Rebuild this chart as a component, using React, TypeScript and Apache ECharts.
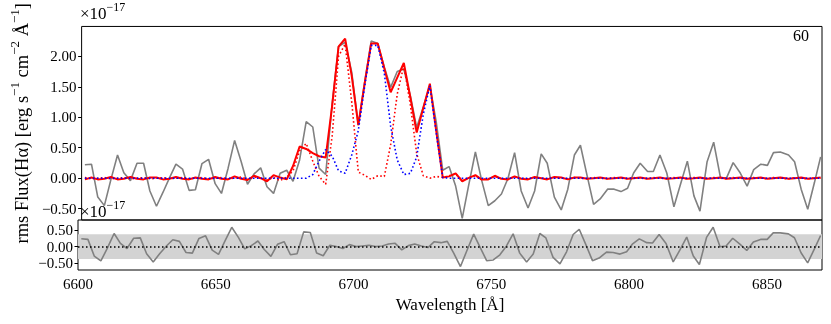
import { useEffect, useRef } from "react";
import * as echarts from "echarts";

// Wavelength samples [Å]
const wavelength = [
  6601.2, 6603.6, 6605.9, 6608.3, 6610.7, 6613.1, 6615.4, 6617.8, 6620.2, 6622.6,
  6624.9, 6627.3, 6629.7, 6632.0, 6634.4, 6636.8, 6639.2, 6641.5, 6643.9, 6646.3,
  6648.7, 6651.0, 6653.4, 6655.8, 6658.2, 6660.5, 6662.9, 6665.3, 6667.6, 6670.0,
  6672.4, 6674.8, 6677.1, 6679.5, 6681.9, 6684.3, 6686.6, 6689.0, 6691.4, 6693.7,
  6696.1, 6698.5, 6700.9, 6703.2, 6705.6, 6708.0, 6710.4, 6712.7, 6715.1, 6717.5,
  6719.9, 6722.2, 6724.6, 6727.0, 6729.3, 6731.7, 6734.0, 6736.4, 6738.8, 6741.0,
  6743.6, 6745.8, 6748.3, 6750.7, 6753.1, 6755.5, 6757.9, 6760.3, 6762.8, 6765.2,
  6767.6, 6769.8, 6772.4, 6774.9, 6777.3, 6779.7, 6781.9, 6784.3, 6786.7, 6789.1,
  6791.8, 6794.2, 6796.7, 6799.1, 6801.3, 6803.7, 6806.4, 6808.5, 6810.9, 6813.4,
  6816.0, 6818.4, 6820.9, 6823.3, 6825.5, 6828.1, 6830.5, 6833.0, 6835.2, 6837.6,
  6840.2, 6842.7, 6845.1, 6847.7, 6850.1, 6852.3, 6854.8, 6857.8, 6860.0, 6862.4,
  6864.8, 6867.2, 6869.5,
];

// Observed rms flux (×1e-17)
const flux = [
  0.22, 0.23, -0.31, -0.45, -0.02, 0.38, 0.09, -0.04, 0.245, 0.245,
  -0.21, -0.46, -0.23, 0.0, 0.23, 0.15, -0.2, -0.19, 0.24, 0.31,
  -0.09, -0.25, 0.16, 0.62, 0.27, -0.1, 0.07, 0.17, -0.14, -0.25,
  0.08, 0.13, -0.05, 0.3, 0.93, 0.84, 0.165, 0.06, 1.24, 2.16,
  2.23, 1.74, 0.87, 1.57, 2.25, 2.21, 1.82, 1.49, 1.75, 1.79,
  1.35, 0.83, 1.17, 1.52, 0.93, 0.13, 0.19, -0.13, -0.66, -0.15,
  0.43, -0.02, -0.45, -0.37, -0.26, 0.0, 0.42, -0.21, -0.49, -0.21,
  0.4, 0.245, -0.31, -0.52, -0.18, 0.38, 0.54, 0.05, -0.43, -0.34,
  -0.18, -0.18, -0.22, -0.165, 0.085, 0.245, 0.11, 0.11, 0.38, 0.085,
  -0.47, -0.1, 0.28, -0.29, -0.54, 0.27, 0.59, 0.005, 0.005, 0.255,
  0.085, -0.13, 0.14, 0.23, 0.21, 0.42, 0.43, 0.38, 0.27, -0.18,
  -0.51, -0.08, 0.35,
];

// Total model (red solid)
const modelTotal = [
  -0.02, 0.01, -0.02, -0.01, 0.02, -0.02, -0.01, 0.02, -0.01, -0.02,
  0.01, 0.01, -0.02, -0.01, 0.02, -0.01, -0.02, 0.01, -0.01, -0.02,
  0.02, -0.01, -0.02, 0.03, -0.01, -0.03, 0.04, 0.0, -0.05, 0.05,
  0.01, -0.02, 0.2, 0.52, 0.48, 0.41, 0.36, 0.34, 1.2, 2.16,
  2.29, 1.68, 0.87, 1.55, 2.21, 2.21, 1.8, 1.41, 1.65, 1.89,
  1.32, 0.75, 1.15, 1.55, 0.78, 0.01, 0.03, 0.08, -0.05, 0.0,
  0.05, -0.02, -0.02, 0.04, -0.01, -0.02, 0.03, -0.01, -0.02, 0.02,
  0.0, -0.02, 0.02, 0.01, -0.02, 0.01, 0.01, -0.01, 0.0, 0.01,
  -0.01, 0.0, 0.01, -0.01, 0.0, 0.01, -0.01, 0.0, 0.01, -0.01,
  0.0, 0.01, -0.01, 0.0, 0.01, -0.01, 0.0, 0.01, -0.01, 0.0,
  0.01, -0.01, 0.0, 0.01, -0.01, 0.0, 0.01, -0.01, 0.0, 0.01,
  -0.01, 0.0, 0.01,
];

// Narrow kinematic component (red dotted)
const componentRed = [
  0.01, -0.01, 0.0, 0.01, -0.01, 0.0, 0.01, -0.01, 0.0, 0.01,
  -0.01, 0.0, 0.01, -0.01, 0.0, 0.01, -0.01, 0.0, 0.01, -0.01,
  0.0, 0.01, -0.01, 0.0, 0.02, -0.02, 0.02, 0.0, -0.03, 0.01,
  -0.04, 0.02, 0.12, 0.45, 0.57, 0.28, 0.03, -0.1, 0.7, 2.0,
  2.2, 1.25, 0.1, 0.05, -0.02, 0.04, 0.03, 0.55, 1.38, 1.85,
  1.2, 0.4, 0.04, 0.0, 0.03, 0.01, 0.04, 0.07, -0.04, 0.0,
  0.04, -0.02, -0.01, 0.03, -0.01, -0.02, 0.02, 0.0, -0.01, 0.01,
  0.0, -0.01, 0.01, 0.0, -0.01, 0.01, 0.0, -0.01, 0.01, 0.0,
  -0.01, 0.01, 0.0, -0.01, 0.01, 0.0, -0.01, 0.01, 0.0, -0.01,
  0.01, 0.0, -0.01, 0.01, 0.0, -0.01, 0.01, 0.0, -0.01, 0.01,
  0.0, -0.01, 0.01, 0.0, -0.01, 0.01, 0.0, -0.01, 0.01, 0.0,
  -0.01, 0.01, 0.0,
];

// Second kinematic component (blue dotted)
const componentBlue = [
  0.0, 0.0, 0.0, 0.0, 0.0, 0.0, 0.0, 0.0, 0.0, 0.0,
  0.0, 0.0, 0.0, 0.0, 0.0, 0.0, 0.0, 0.0, 0.0, 0.0,
  0.0, 0.0, 0.0, 0.0, 0.0, 0.0, 0.0, 0.0, 0.0, 0.0,
  0.0, 0.0, 0.0, 0.0, 0.0, 0.06, 0.28, 0.47, 0.36, 0.12,
  0.08, 0.38, 0.78, 1.5, 2.18, 2.18, 1.72, 0.85, 0.3, 0.06,
  0.08, 0.35, 1.05, 1.52, 0.75, 0.01, 0.0, 0.0, 0.0, 0.0,
  0.0, 0.0, 0.0, 0.0, 0.0, 0.0, 0.0, 0.0, 0.0, 0.0,
  0.0, 0.0, 0.0, 0.0, 0.0, 0.0, 0.0, 0.0, 0.0, 0.0,
  0.0, 0.0, 0.0, 0.0, 0.0, 0.0, 0.0, 0.0, 0.0, 0.0,
  0.0, 0.0, 0.0, 0.0, 0.0, 0.0, 0.0, 0.0, 0.0, 0.0,
  0.0, 0.0, 0.0, 0.0, 0.0, 0.0, 0.0, 0.0, 0.0, 0.0,
  0.0, 0.0, 0.0,
];

const rmsLevel = 0.38;
const xTicks = [6600, 6650, 6700, 6750, 6800, 6850];
const fluxTicks = [-0.5, 0, 0.5, 1, 1.5, 2];
const residualTicks = [-0.5, 0, 0.5];
const panelLabel = "60";

const FONT = "'Liberation Serif', 'DejaVu Serif', serif";
const fmt = (v: number) => (v < 0 ? "\u2212" : "") + Math.abs(v).toFixed(2);

export default function App() {
  const ref = useRef<HTMLDivElement>(null);
  useEffect(() => {
    if (!ref.current) return;
    const chart = echarts.init(ref.current, undefined, { renderer: "svg" });
    const pairs = (ys: number[]) => wavelength.map((w, i) => [w, ys[i]]);
    const residual = wavelength.map((w, i) => [w, +(flux[i] - modelTotal[i]).toFixed(3)]);
    const tickLabel = { fontFamily: FONT, fontSize: 15, color: "#000" };
    const richOffset = {
      a: { fontFamily: FONT, fontSize: 17, lineHeight: 21, verticalAlign: "bottom", fill: "#000", color: "#000" },
      b: { fontFamily: FONT, fontSize: 12, lineHeight: 12, verticalAlign: "top", fill: "#000", color: "#000" },
    };
    chart.setOption({
      animation: false,
      grid: [
        { left: 78, top: 21, width: 744, height: 199, show: true, borderColor: "#000", borderWidth: 1, backgroundColor: "transparent" },
        { left: 78, top: 220, width: 744, height: 50, show: true, borderColor: "#000", borderWidth: 1, backgroundColor: "transparent" },
      ],
      xAxis: [
        {
          type: "value", gridIndex: 0, min: 6600, max: 6870,
          axisLabel: { show: false }, axisTick: { show: false }, axisLine: { show: false }, splitLine: { show: false },
        },
        {
          type: "value", gridIndex: 1, min: 6600, max: 6870,
          axisLabel: { ...tickLabel, margin: 6, customValues: xTicks, formatter: (v: number) => String(v) },
          axisTick: { show: true, length: 3.5, customValues: xTicks, lineStyle: { color: "#000", width: 1 } },
          axisLine: { show: false }, splitLine: { show: false },
          name: "Wavelength [Å]", nameLocation: "middle", nameGap: 26,
          nameTextStyle: { fontFamily: FONT, fontSize: 17, color: "#000" },
        },
      ],
      yAxis: [
        {
          type: "value", gridIndex: 0, min: -0.686, max: 2.49,
          axisLabel: { ...tickLabel, margin: 5, customValues: fluxTicks, formatter: fmt },
          axisTick: { show: true, length: 3.5, customValues: fluxTicks, lineStyle: { color: "#000", width: 1 } },
          axisLine: { show: false }, splitLine: { show: false },
          name: "{b|rms Flux(Hα) [erg s}{s|\u22121}{b| cm}{s|\u22122}{b| Å}{s|\u22121}{b|]}",
          nameLocation: "middle", nameGap: 41,
          nameTextStyle: {
            rich: {
              b: { fontFamily: FONT, fontSize: 18.5, lineHeight: 23, verticalAlign: "bottom", color: "#000" },
              s: { fontFamily: FONT, fontSize: 13, lineHeight: 13, verticalAlign: "top", color: "#000" },
            },
          },
        },
        {
          type: "value", gridIndex: 1, min: -0.716, max: 0.813,
          axisLabel: { ...tickLabel, margin: 5, customValues: residualTicks, formatter: fmt },
          axisTick: { show: true, length: 3.5, customValues: residualTicks, lineStyle: { color: "#000", width: 1 } },
          axisLine: { show: false }, splitLine: { show: false },
        },
      ],
      series: [
        {
          type: "line", xAxisIndex: 0, yAxisIndex: 0, data: pairs(flux), showSymbol: false, z: 2,
          lineStyle: { color: "#808080", width: 1.6 }, itemStyle: { color: "#808080" },
        },
        {
          type: "line", xAxisIndex: 0, yAxisIndex: 0, data: pairs(modelTotal), showSymbol: false, z: 3,
          lineStyle: { color: "#ff0000", width: 2 }, itemStyle: { color: "#ff0000" },
        },
        {
          type: "line", xAxisIndex: 0, yAxisIndex: 0, data: pairs(componentRed), showSymbol: false, z: 4,
          lineStyle: { color: "#ff0000", width: 1.6, type: [1.6, 2.4] }, itemStyle: { color: "#ff0000" },
        },
        {
          type: "line", xAxisIndex: 0, yAxisIndex: 0, data: pairs(componentBlue), showSymbol: false, z: 5,
          lineStyle: { color: "#0000ff", width: 1.6, type: [1.6, 2.4] }, itemStyle: { color: "#0000ff" },
        },
        {
          type: "line", xAxisIndex: 1, yAxisIndex: 1, data: residual, showSymbol: false, z: 3,
          lineStyle: { color: "#808080", width: 1.6 }, itemStyle: { color: "#808080" },
          markArea: {
            silent: true, itemStyle: { color: "#d3d3d3" },
            data: [[{ yAxis: -rmsLevel }, { yAxis: rmsLevel }]],
          },
          markLine: {
            silent: true, symbol: ["none", "none"], label: { show: false },
            lineStyle: { color: "#000", type: [1.5, 2.5], width: 1.5 },
            data: [{ yAxis: 0 }],
          },
        },
      ],
      graphic: [
        { type: "text", left: 80, top: 1, style: { text: "{a|×10}{b|\u221217}", rich: richOffset } },
        { type: "text", left: 80, top: 199, style: { text: "{a|×10}{b|\u221217}", rich: richOffset } },
        { type: "text", left: 793, top: 27, style: { text: panelLabel, fontFamily: FONT, fontSize: 16, fill: "#000" } },
      ],
    });
    return () => chart.dispose();
  }, []);
  return <div ref={ref} style={{ position: "fixed", left: 0, top: 0, width: 831, height: 324 }} />;
}
